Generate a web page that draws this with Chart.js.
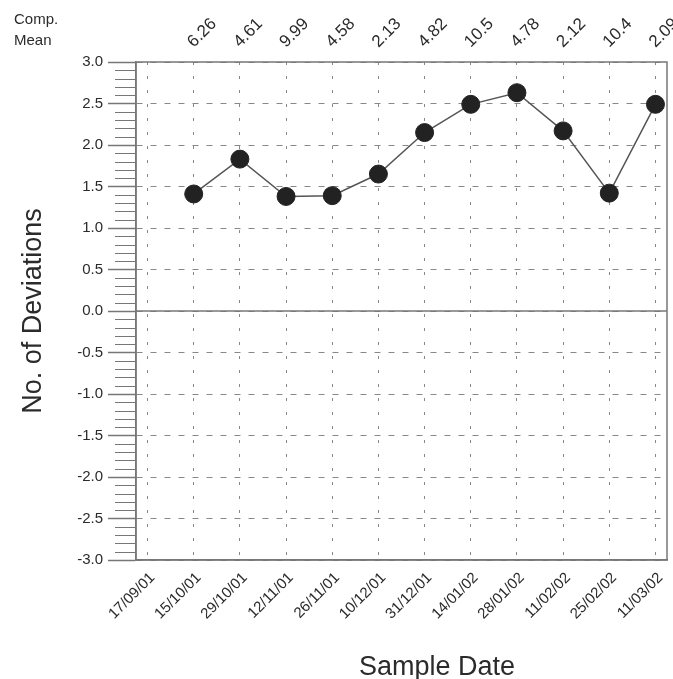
<!DOCTYPE html>
<html>
<head>
<meta charset="utf-8">
<script src="https://cdn.jsdelivr.net/npm/chart.js@4"></script>
<style>
  html, body { margin: 0; padding: 0; background: #fff; }
  #wrap { width: 673px; height: 679px; }
</style>
</head>
<body>
<div id="wrap"><canvas id="chart" width="673" height="679"></canvas></div>
<script>
// Sample dates along the bottom axis
const sampleDates = ['17/09/01', '15/10/01', '29/10/01', '12/11/01', '26/11/01', '10/12/01',
                     '31/12/01', '14/01/02', '28/01/02', '11/02/02', '25/02/02', '11/03/02'];
// No. of deviations per sample (no point on the first date)
const deviations = [null, 1.41, 1.83, 1.38, 1.39, 1.65, 2.15, 2.49, 2.63, 2.17, 1.42, 2.49];
// Comp. mean values written above each date
const compMeans = [null, '6.26', '4.61', '9.99', '4.58', '2.13', '4.82', '10.5', '4.78', '2.12', '10.4', '2.09'];
// y axis range and tick steps
const yMin = -3.0;
const yMax = 3.0;
const majorStep = 0.5;
const minorStep = 0.1;

const fontFamily = "'Liberation Sans', Arial, Helvetica, sans-serif";
const textColor = '#2b2b2b';
const axisColor = '#777';
const gridColor = '#888';

// extra bits: frame, solid zero line, minor ticks and the free-standing texts
const decorations = {
    id: 'decorations',
    beforeDatasetsDraw(chart) {
        const { ctx, chartArea: a, scales: { x, y } } = chart;
        ctx.save();
        ctx.strokeStyle = axisColor;
        ctx.lineWidth = 1.5;
        ctx.setLineDash([]);
        const y0 = y.getPixelForValue(0);
        ctx.beginPath();
        ctx.moveTo(a.left, y0);
        ctx.lineTo(a.right, y0);
        ctx.stroke();
        ctx.strokeRect(a.left, a.top, a.right - a.left, a.bottom - a.top);

        // minor ticks every 0.1
        ctx.lineWidth = 1;
        const n = Math.round((yMax - yMin) / minorStep);
        const perMajor = Math.round(majorStep / minorStep);
        for (let i = 0; i <= n; i++) {
            if (i % perMajor === 0) continue;
            const py = Math.round(y.getPixelForValue(yMin + i * minorStep)) + 0.5;
            ctx.beginPath();
            ctx.moveTo(a.left - 21, py);
            ctx.lineTo(a.left, py);
            ctx.stroke();
        }
        ctx.restore();
    },
    afterDraw(chart) {
        const { ctx, chartArea: a, scales: { x } } = chart;
        ctx.save();
        ctx.fillStyle = textColor;

        // "Comp. Mean" heading
        ctx.font = '15px ' + fontFamily;
        ctx.textAlign = 'left';
        ctx.textBaseline = 'alphabetic';
        ctx.fillText('Comp.', 14, 24);
        ctx.fillText('Mean', 14, 45);

        // comp. mean values, rotated
        ctx.font = '17px ' + fontFamily;
        compMeans.forEach((label, i) => {
            if (!label) return;
            const px = x.getPixelForValue(i);
            ctx.save();
            ctx.translate(px, 48);
            ctx.rotate(-Math.PI / 4);
            ctx.fillText(label, 0, 0);
            ctx.restore();
        });

        // axis titles
        ctx.font = '27px ' + fontFamily;
        ctx.textAlign = 'center';
        ctx.save();
        ctx.translate(41, (a.top + a.bottom) / 2);
        ctx.rotate(-Math.PI / 2);
        ctx.fillText('No. of Deviations', 0, 0);
        ctx.restore();
        ctx.fillText('Sample Date', 437, 675);
        ctx.restore();
    }
};

const ctx = document.getElementById('chart').getContext('2d');
const chart = new Chart(ctx, {
    type: 'line',
    data: {
        datasets: [{
            label: 'No. of Deviations',
            data: deviations
                .map((v, i) => ({ x: i, y: v }))
                .filter(p => p.y !== null),
            borderColor: '#555',
            borderWidth: 1.5,
            pointRadius: 9,
            pointHoverRadius: 9,
            pointBackgroundColor: '#222',
            pointBorderColor: '#222',
            pointBorderWidth: 1,
            tension: 0,
            fill: false
        }]
    },
    options: {
        responsive: false,
        animation: false,
        layout: {
            autoPadding: false,
            padding: { left: 0, top: 62, right: 6, bottom: 0 }
        },
        plugins: {
            legend: { display: false },
            tooltip: { enabled: false }
        },
        scales: {
            x: {
                type: 'linear',
                min: -0.25,
                max: sampleDates.length - 0.75,
                afterBuildTicks: function (scale) {
                    scale.ticks = sampleDates.map((d, i) => ({ value: i }));
                },
                afterFit: function (scale) {
                    scale.height = 119;
                    scale.paddingLeft = 0;
                    scale.paddingRight = 0;
                },
                grid: {
                    color: gridColor,
                    lineWidth: 1,
                    drawTicks: false
                },
                border: {
                    display: true,
                    color: axisColor,
                    width: 1.5,
                    dash: [3, 11]
                },
                ticks: {
                    autoSkip: false,
                    maxRotation: 45,
                    minRotation: 45,
                    padding: 9,
                    labelOffset: 5,
                    color: textColor,
                    font: { family: fontFamily, size: 15 },
                    callback: function (value) {
                        return sampleDates[value];
                    }
                }
            },
            y: {
                min: yMin,
                max: yMax,
                afterFit: function (scale) {
                    scale.width = 136;
                },
                grid: {
                    color: gridColor,
                    lineWidth: 1,
                    tickLength: 28,
                    tickColor: axisColor,
                    tickWidth: 1.5
                },
                border: {
                    display: true,
                    color: axisColor,
                    width: 1.5,
                    dash: [6, 8]
                },
                ticks: {
                    stepSize: majorStep,
                    padding: 5,
                    color: textColor,
                    font: { family: fontFamily, size: 15 },
                    callback: function (value) {
                        return value.toFixed(1);
                    }
                }
            }
        }
    },
    plugins: [decorations]
});
</script>
</body>
</html>
